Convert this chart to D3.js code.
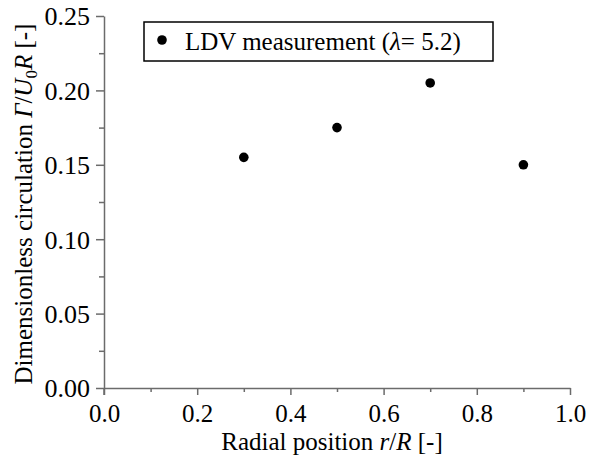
<!DOCTYPE html>
<html>
<head>
<meta charset="utf-8">
<script src="https://cdn.jsdelivr.net/npm/d3@7"></script>
</head>
<body style="margin:0;background:#fff">
<svg id="chart" width="592" height="457"></svg>
<script>
// data
const radialPos = [0.3, 0.5, 0.7, 0.9];
const circulation = [0.155, 0.175, 0.205, 0.150];
const xTicks = [0.0, 0.2, 0.4, 0.6, 0.8, 1.0];
const yTicks = [0.00, 0.05, 0.10, 0.15, 0.20, 0.25];

const FONT = 'Liberation Serif';
const AXIS_COLOR = '#6b6b6b';

const config = {
  width: 592,
  height: 457,
  margin: { top: 16, right: 22, bottom: 69, left: 104 }
};
const innerW = config.width - config.margin.left - config.margin.right;
const innerH = config.height - config.margin.top - config.margin.bottom;

const svg = d3.select('#chart').style('font-family', FONT);
const g = svg.append('g')
  .attr('transform', `translate(${config.margin.left},${config.margin.top})`);

const xScale = d3.scaleLinear().domain([0, 1]).range([0, innerW]);
const yScale = d3.scaleLinear().domain([0, 0.25]).range([innerH, 0]);

function styleAxis(sel, size) {
  sel.attr('font-family', null).attr('font-size', size);
  sel.selectAll('path, line').attr('stroke', AXIS_COLOR).attr('stroke-width', 1.5);
  sel.selectAll('text').style('font-family', FONT).attr('font-size', size).attr('fill', '#000');
}

// minor ticks
g.append('g')
  .attr('transform', `translate(0,${innerH})`)
  .call(d3.axisBottom(xScale).tickValues(d3.range(0.1, 1, 0.2)).tickSize(4).tickFormat('').tickSizeOuter(0))
  .call(s => s.select('.domain').remove())
  .call(s => styleAxis(s, 25));
g.append('g')
  .call(d3.axisLeft(yScale).tickValues(d3.range(0.025, 0.25, 0.05)).tickSize(5).tickFormat('').tickSizeOuter(0))
  .call(s => s.select('.domain').remove())
  .call(s => styleAxis(s, 25));

// major axes
g.append('g')
  .attr('transform', `translate(0,${innerH})`)
  .call(d3.axisBottom(xScale).tickValues(xTicks).tickSize(7).tickSizeOuter(0).tickPadding(0).tickFormat(d3.format('.1f')))
  .call(s => styleAxis(s, 25))
  .selectAll('text').attr('dy', null).attr('y', 34);
g.append('g')
  .call(d3.axisLeft(yScale).tickValues(yTicks).tickSize(8).tickSizeOuter(0).tickPadding(6).tickFormat(d3.format('.2f')))
  .call(s => styleAxis(s, 26))
  .selectAll('text').attr('dy', '0.34em');

// axis overhang at origin
g.append('line')
  .attr('x1', 0).attr('x2', 0)
  .attr('y1', innerH).attr('y2', innerH + 7)
  .attr('stroke', AXIS_COLOR).attr('stroke-width', 1.5);

// points
g.append('g').selectAll('circle')
  .data(radialPos.map((r, i) => ({ r, c: circulation[i] })))
  .enter()
  .append('circle')
  .attr('cx', d => xScale(d.r))
  .attr('cy', d => yScale(d.c))
  .attr('r', 4.8)
  .attr('fill', '#000');

// axis titles
const xt = svg.append('text')
  .attr('x', 332)
  .attr('y', 450)
  .attr('text-anchor', 'middle')
  .style('font-family', FONT)
  .attr('font-size', 25);
xt.append('tspan').text('Radial position ');
xt.append('tspan').attr('font-style', 'italic').text('r');
xt.append('tspan').text('/');
xt.append('tspan').attr('font-style', 'italic').text('R');
xt.append('tspan').text(' [-]');

const yt = svg.append('text')
  .attr('transform', 'translate(32,204) rotate(-90)')
  .attr('text-anchor', 'middle')
  .style('font-family', FONT)
  .attr('font-size', 25);
yt.append('tspan').text('Dimensionless circulation ');
yt.append('tspan').attr('font-style', 'italic').text('Γ');
yt.append('tspan').text('/');
yt.append('tspan').attr('font-style', 'italic').text('U');
yt.append('tspan').attr('font-size', 17).attr('dy', 5).text('0');
yt.append('tspan').attr('font-style', 'italic').attr('dy', -5).text('R');
yt.append('tspan').text(' [-]');

// legend
const legend = svg.append('g').attr('transform', 'translate(144,22)');
legend.append('rect')
  .attr('width', 349).attr('height', 39)
  .attr('fill', '#fff').attr('stroke', '#000').attr('stroke-width', 1.5);
legend.append('circle')
  .attr('cx', 18).attr('cy', 18).attr('r', 4.8).attr('fill', '#000');
const lt = legend.append('text')
  .attr('x', 41).attr('y', 28)
  .style('font-family', FONT)
  .attr('font-size', 25);
lt.append('tspan').text('LDV measurement (');
lt.append('tspan').attr('font-style', 'italic').text('λ');
lt.append('tspan').text('= 5.2)');
</script>
</body>
</html>
